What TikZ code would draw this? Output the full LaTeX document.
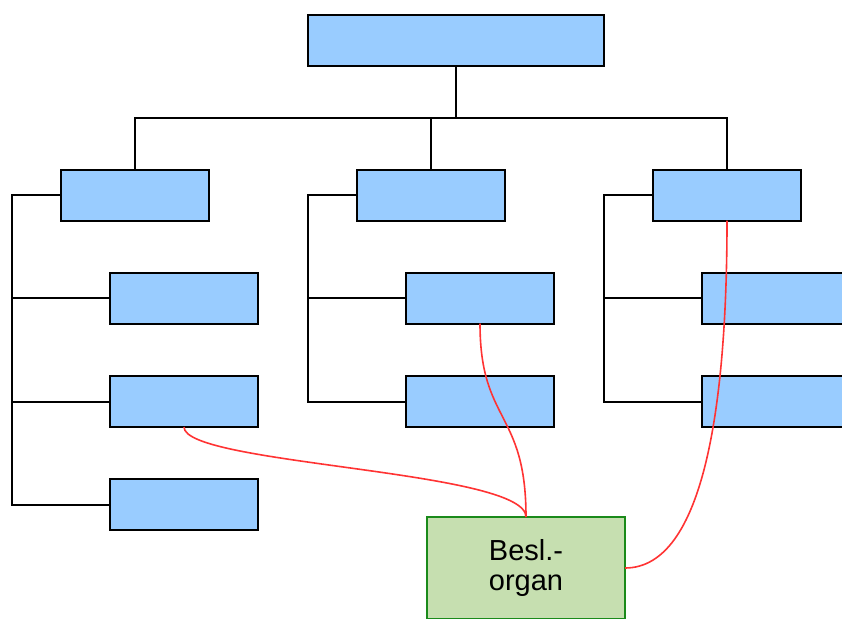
\documentclass[tikz,border=0pt]{standalone}
\usepackage{fontspec}
\setmainfont{Liberation Sans}
\begin{document}
\begin{tikzpicture}[x=1pt,y=-1pt,
  bluebox/.style={draw=black,line width=2pt,fill=boxblue,minimum width=148pt,minimum height=51pt,inner sep=0pt,outer sep=0pt},
  tree/.style={draw=black,line width=2pt},
  link/.style={draw=linkred,line width=1.6pt},
  orgbox/.style={draw=orgborder,line width=2pt,fill=orggreen,minimum width=198pt,minimum height=102pt,inner sep=0pt,outer sep=0pt,align=center,font=\fontsize{29}{30}\selectfont}]
\definecolor{boxblue}{HTML}{99CCFF}
\definecolor{linkred}{HTML}{FF3333}
\definecolor{orggreen}{HTML}{C6DFB0}
\definecolor{orgborder}{HTML}{1A8A1A}
\clip (0,0) rectangle (842,618);
\fill[white] (0,0) rectangle (842,618);
% top
\node[bluebox,minimum width=296pt] (T) at (456,40.5) {};
% level 1
\node[bluebox] (L) at (135,195) {};
\node[bluebox] (M) at (431,195) {};
\node[bluebox] (R) at (727,195) {};
% level 2
\node[bluebox] (L1) at (184,298) {};
\node[bluebox] (L2) at (184,401.5) {};
\node[bluebox] (L3) at (184,504.5) {};
\node[bluebox] (M1) at (480,298) {};
\node[bluebox] (M2) at (480,401.5) {};
\node[bluebox] (R1) at (776,298) {};
\node[bluebox] (R2) at (776,401.5) {};
% decision organ
\node[orgbox] (G) at (526,568) {Besl.-\\organ};
% tree connectors
\coordinate (bus) at (456,118);
\coordinate (lx) at (12,195);
\coordinate (mx) at (308,195);
\coordinate (rx) at (604,195);
\draw[tree] (T.south) -- (bus);
\draw[tree] (L.north) -- (L.north |- bus) -- (R.north |- bus) -- (R.north);
\draw[tree] (M.north) -- (M.north |- bus);
\draw[tree] (L.west) -- (lx) |- (L3.west);
\draw[tree] (lx |- L1.west) -- (L1.west);
\draw[tree] (lx |- L2.west) -- (L2.west);
\draw[tree] (M.west) -- (mx) |- (M2.west);
\draw[tree] (mx |- M1.west) -- (M1.west);
\draw[tree] (R.west) -- (rx) |- (R2.west);
\draw[tree] (rx |- R1.west) -- (R1.west);
% red links
\draw[link] (L2.south) .. controls +(0,38) and +(0,-47) .. (G.north);
\draw[link] (M1.south) .. controls +(0,100) and +(0,-107) .. (G.north);
\draw[link] (R.south) .. controls +(0,180) and +(80,0) .. (G.east);
\end{tikzpicture}
\end{document}
